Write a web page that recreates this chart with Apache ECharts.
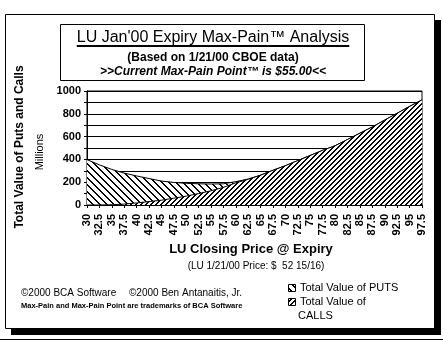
<!DOCTYPE html>
<html>
<head>
<meta charset="utf-8">
<script src="https://cdn.jsdelivr.net/npm/echarts@6/dist/echarts.min.js"></script>
<style>
  html, body { margin: 0; padding: 0; background: #fff; }
  #chart { width: 443px; height: 342px; }
</style>
</head>
<body>
<div id="chart"></div>
<script>
// Strike prices at expiry (x axis categories)
const strikes = ['30','32.5','35','37.5','40','42.5','45','47.5','50','52.5','55','57.5','60','62.5',
  '65','67.5','70','72.5','75','77.5','80','82.5','85','87.5','90','92.5','95','97.5'];

// Total value of open CALLS at each closing price (millions)
const callValues = [0, 0, 2, 8, 18, 30, 42, 60, 78, 100, 125, 155, 195, 225,
  262, 305, 345, 390, 435, 480, 520, 575, 630, 685, 745, 805, 865, 922];

// Total value of open PUTS at each closing price (millions), stacked on calls
const putValues = [398, 352, 310, 272, 237, 202, 168, 138, 112, 86, 59, 31, 10, 3,
  0, 0, 0, 0, 0, 0, 0, 0, 0, 0, 0, 0, 0, 0];

// Value axis ticks
const yTicks = [0, 200, 400, 600, 800, 1000];

const FONT = '"Liberation Sans", Arial, sans-serif';

// Hatch fills: 1 = "/" rising, -1 = "\" falling
function hatch(size, dir, thick) {
  const c = document.createElement('canvas');
  c.width = size; c.height = size;
  const g = c.getContext('2d');
  g.fillStyle = '#fff';
  g.fillRect(0, 0, size, size);
  g.fillStyle = '#000';
  for (let i = 0; i < size; i++) {
    const y = dir > 0 ? size - 1 - i : i;
    for (let t = 0; t < thick; t++) g.fillRect((i + t) % size, y, 1, 1);
  }
  return c;
}
const putFill = { image: hatch(7, -1, 2), repeat: 'repeat' };
const callFill = { image: hatch(5, 1, 2), repeat: 'repeat' };

function textWidth(str, font) {
  const g = document.createElement('canvas').getContext('2d');
  g.font = font;
  return g.measureText(str).width;
}

const titleText = "LU Jan'00 Expiry Max-Pain\u2122 Analysis";
const titleFont = '16px ' + FONT;
const titleW = textWidth(titleText, titleFont);
const titleCx = 213;

const chart = echarts.init(document.getElementById('chart'), null, { renderer: 'canvas' });

chart.setOption({
  animation: false,
  backgroundColor: '#fff',
  grid: {
    left: 87, right: 21, top: 91, bottom: 137,
    show: true, borderColor: '#000', borderWidth: 1, backgroundColor: 'transparent'
  },
  xAxis: {
    type: 'category',
    data: strikes,
    boundaryGap: false,
    axisLine: { lineStyle: { color: '#000', width: 1 } },
    axisTick: { show: true, interval: 0, length: 3, lineStyle: { color: '#000' } },
    axisLabel: {
      interval: 0, rotate: 90, margin: 9,
      color: '#000', fontFamily: FONT, fontWeight: 'bold', fontSize: 11
    },
    splitLine: { show: false }
  },
  yAxis: {
    type: 'value',
    min: 0, max: 1000, interval: 100,
    axisLine: { show: true, lineStyle: { color: '#000', width: 1 } },
    axisTick: { show: true, length: 3, lineStyle: { color: '#000' } },
    axisLabel: {
      margin: 6, color: '#000', fontFamily: FONT, fontWeight: 'bold', fontSize: 11,
      formatter: v => (yTicks.indexOf(v) >= 0 ? String(v) : '')
    },
    splitLine: { show: true, lineStyle: { color: '#000', width: 1 } }
  },
  series: [
    {
      name: 'Total Value of CALLS',
      type: 'line',
      stack: 'pain',
      data: callValues,
      symbol: 'none',
      lineStyle: { color: '#000', width: 1 },
      areaStyle: { color: callFill, opacity: 1 },
      z: 3
    },
    {
      name: 'Total Value of PUTS',
      type: 'line',
      stack: 'pain',
      data: putValues,
      symbol: 'none',
      lineStyle: { color: '#000', width: 1 },
      areaStyle: { color: putFill, opacity: 1 },
      z: 2
    }
  ],
  graphic: [
    // page frame with drop shadow
    { type: 'rect', z: -20, shape: { x: 11, y: 20, width: 430, height: 315 }, style: { fill: '#000' } },
    { type: 'rect', z: -19, shape: { x: 5.5, y: 14.5, width: 429, height: 314 }, style: { fill: '#fff', stroke: '#000', lineWidth: 1 } },
    { type: 'line', z: -19, shape: { x1: 0, y1: 339.5, x2: 443, y2: 339.5 }, style: { stroke: '#000', lineWidth: 1 } },

    // title block
    { type: 'rect', shape: { x: 60.5, y: 24.5, width: 304, height: 56 }, style: { fill: '#fff', stroke: '#000', lineWidth: 1 } },
    { type: 'text', x: titleCx, y: 38, style: { text: titleText, font: titleFont, fill: '#000', align: 'center', verticalAlign: 'middle' } },
    { type: 'line', shape: { x1: titleCx - titleW / 2, y1: 46, x2: titleCx + titleW / 2, y2: 46 }, style: { stroke: '#000', lineWidth: 2 } },
    { type: 'text', x: titleCx, y: 58, style: { text: '(Based on 1/21/00 CBOE data)', font: 'bold 12px ' + FONT, fill: '#000', align: 'center', verticalAlign: 'middle' } },
    { type: 'text', x: titleCx, y: 72, style: { text: '>>Current Max-Pain Point\u2122 is $55.00<<', font: 'italic bold 12px ' + FONT, fill: '#000', align: 'center', verticalAlign: 'middle' } },

    // axis titles
    { type: 'text', x: 20, y: 147, rotation: Math.PI / 2, style: { text: 'Total Value of Puts and Calls', font: 'bold 12px ' + FONT, fill: '#000', align: 'center', verticalAlign: 'middle' } },
    { type: 'text', x: 40, y: 152, rotation: Math.PI / 2, style: { text: 'Millions', font: '11px ' + FONT, fill: '#000', align: 'center', verticalAlign: 'middle' } },
    { type: 'text', x: 251, y: 249, style: { text: 'LU Closing Price @ Expiry', font: 'bold 13px ' + FONT, fill: '#000', align: 'center', verticalAlign: 'middle' } },
    { type: 'text', x: 256, y: 266, style: { text: '(LU 1/21/00 Price: $  52 15/16)', font: '10px ' + FONT, fill: '#000', align: 'center', verticalAlign: 'middle' } },

    // credits
    { type: 'text', x: 21, y: 293, style: { text: '\u00a92000 BCA Software', font: '10px ' + FONT, fill: '#000', align: 'left', verticalAlign: 'middle' } },
    { type: 'text', x: 129, y: 293, style: { text: '\u00a92000 Ben Antanaitis, Jr.', font: '10px ' + FONT, fill: '#000', align: 'left', verticalAlign: 'middle' } },
    { type: 'text', x: 21, y: 306, style: { text: 'Max-Pain and Max-Pain Point are trademarks of BCA Software', font: 'bold 7.5px ' + FONT, fill: '#000', align: 'left', verticalAlign: 'middle' } },

    // legend
    { type: 'rect', shape: { x: 288.5, y: 284.5, width: 7, height: 7 }, style: { fill: putFill, stroke: '#000', lineWidth: 1 } },
    { type: 'text', x: 300, y: 288, style: { text: 'Total Value of PUTS', font: '11px ' + FONT, fill: '#000', align: 'left', verticalAlign: 'middle' } },
    { type: 'rect', shape: { x: 288.5, y: 298.5, width: 7, height: 7 }, style: { fill: callFill, stroke: '#000', lineWidth: 1 } },
    { type: 'text', x: 300, y: 302, style: { text: 'Total Value of', font: '11px ' + FONT, fill: '#000', align: 'left', verticalAlign: 'middle' } },
    { type: 'text', x: 298, y: 316, style: { text: 'CALLS', font: '11px ' + FONT, fill: '#000', align: 'left', verticalAlign: 'middle' } }
  ]
});
</script>
</body>
</html>
